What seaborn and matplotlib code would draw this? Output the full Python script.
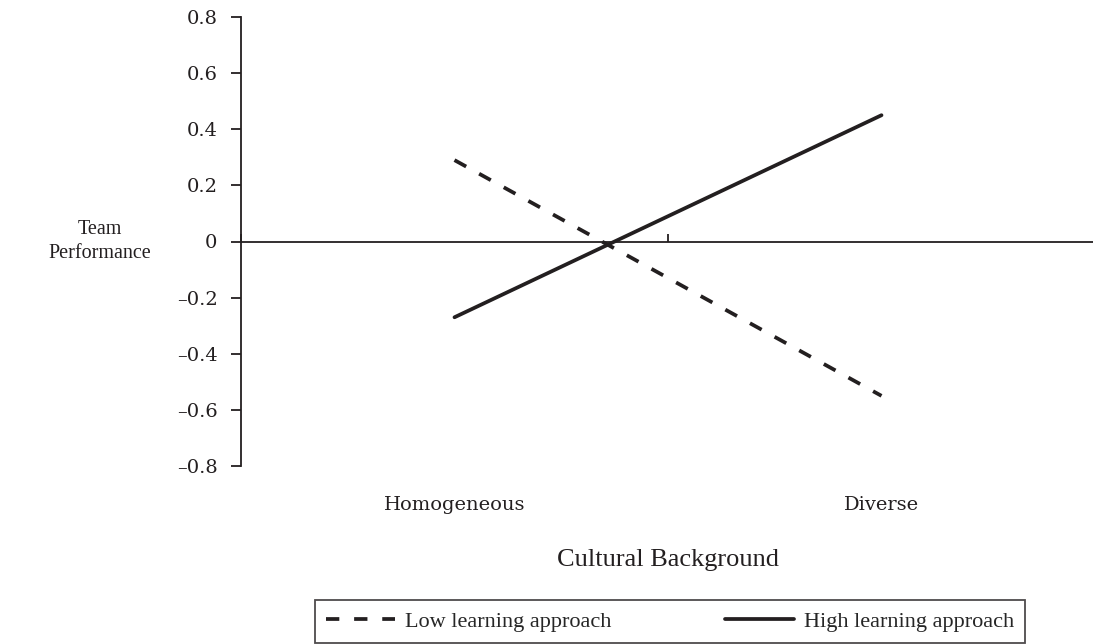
import matplotlib
matplotlib.use("Agg")
import matplotlib.pyplot as plt
import seaborn as sns
import pandas as pd

# values
background = ["Homogeneous", "Diverse"]
low_learning = [0.29, -0.55]
high_learning = [-0.27, 0.45]
series_names = ["Low learning approach", "High learning approach"]
y_ticks = [-0.8, -0.6, -0.4, -0.2, 0, 0.2, 0.4, 0.6, 0.8]
y_tick_labels = ["\u20130.8", "\u20130.6", "\u20130.4", "\u20130.2", "0", "0.2", "0.4", "0.6", "0.8"]

df = pd.DataFrame({
    "background": background * 2,
    "performance": low_learning + high_learning,
    "approach": [series_names[0]] * 2 + [series_names[1]] * 2,
})

sns.set_theme(style="white")
plt.rcParams["font.family"] = ["DejaVu Serif"]
ink = "#231f20"

fig = plt.figure(figsize=(10.93, 6.44), dpi=100)
ax = fig.add_axes([241 / 1093, 1 - 466 / 644, 854 / 1093, 449 / 644])

sns.lineplot(data=df, x="background", y="performance", hue="approach", style="approach",
             hue_order=series_names, style_order=series_names,
             palette=[ink, ink], dashes={series_names[0]: (3.55, 3.95), series_names[1]: ""},
             linewidth=2.7, legend=False, ax=ax, sort=False)
for ln in ax.get_lines():
    ln.set_solid_capstyle("round")

ax.set_xlim(-0.5, 1.5)
ax.set_ylim(-0.8, 0.8)

# axes styling
for s in ["top", "right"]:
    ax.spines[s].set_visible(False)
ax.spines["left"].set_color(ink)
ax.spines["left"].set_linewidth(1.3)
ax.spines["bottom"].set_position(("data", 0))
ax.spines["bottom"].set_color(ink)
ax.spines["bottom"].set_linewidth(1.3)

ax.set_yticks(y_ticks, y_tick_labels, fontsize=14, color=ink)
ax.tick_params(axis="y", direction="out", length=7, width=1.3, color=ink, left=True, pad=10)
ax.set_xticks([-0.5, 0.5], ["", ""])
ax.tick_params(axis="x", direction="in", length=6, width=1.3, color=ink, bottom=True)

# category labels below the plot
sec = ax.secondary_xaxis(-0.057)
sec.set_xticks([0, 1], background, fontsize=14, color=ink)
sec.tick_params(length=0)
sec.spines["bottom"].set_visible(False)

ax.set_xlabel("Cultural Background", fontsize=19, color=ink, family="Liberation Serif")
ax.xaxis.set_label_coords(0.5, (466 - 549) / 449)
ax.set_ylabel("Team\nPerformance", fontsize=14.5, color=ink, rotation=0, ha="center", va="center",
              linespacing=1.3, family="Liberation Serif")
ax.yaxis.set_label_coords((100 - 241) / 854, 0.5)

handles = ax.get_lines()[:2]
leg = fig.legend(handles, series_names, loc="lower left", ncol=2, mode="expand",
                 bbox_to_anchor=(315 / 1093, 1 - 643 / 644, 710 / 1093, 44 / 644),
                 prop={"family": "Liberation Serif", "size": 16}, handlelength=3.1,
                 handletextpad=0.45, frameon=True, fancybox=False, borderaxespad=0,
                 borderpad=0.5)
leg.get_frame().set_edgecolor(ink)
leg.get_frame().set_linewidth(1.3)

fig.savefig("out.png", dpi=100)
